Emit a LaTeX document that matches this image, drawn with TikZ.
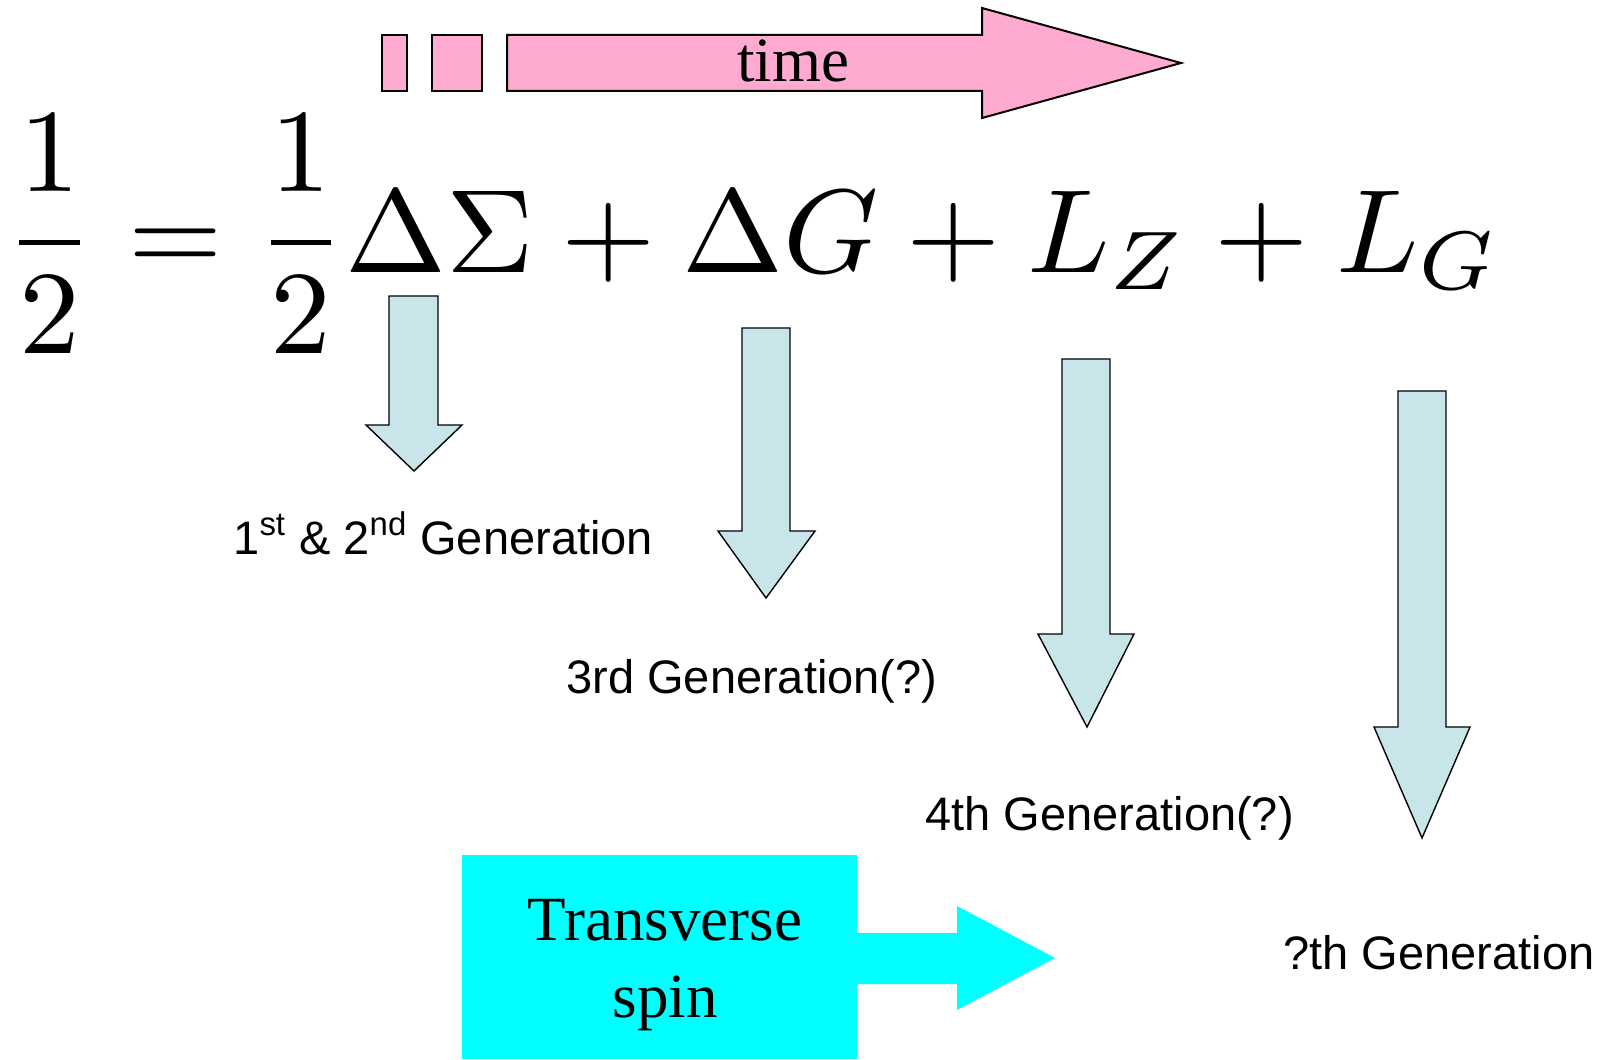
\documentclass[tikz,border=0pt]{standalone}
\usepackage{fontspec}
\usepackage{graphicx}
\setmainfont{Liberation Serif}
\newfontfamily\labelfont{Liberation Sans}
\definecolor{pinkfill}{RGB}{255,170,208}
\definecolor{iceblue}{RGB}{200,230,233}
\definecolor{brightcyan}{RGB}{0,255,255}
\begin{document}
\begin{tikzpicture}[x=0.5pt,y=-0.5pt,
  pinkshape/.style={fill=pinkfill,draw=black,line width=1pt,line join=miter},
  downarrow/.style={fill=iceblue,draw=black,line width=0.7pt,line join=miter},
  genlabel/.style={anchor=base west,inner sep=0pt,font=\labelfont\fontsize{23.5pt}{28pt}\selectfont},
  seriflabel/.style={inner sep=0pt,font=\fontsize{31.5pt}{38.5pt}\selectfont}]
\useasboundingbox (0,0) rectangle (1615,1059);
% time arrow
\draw[pinkshape] (382,35) rectangle (407,91);
\draw[pinkshape] (432,35) rectangle (482,91);
\draw[pinkshape] (507,35) -- (982,35) -- (982,8) -- (1181,63) -- (982,118) -- (982,91) -- (507,91) -- cycle;
\node[seriflabel,anchor=base] (time) at (793,82) {time};
% equation
\node[anchor=north west,inner sep=0pt] (eq) at (4.5,115)
  {\resizebox*{747.5pt}{119pt}{$\displaystyle \frac{1}{2}=\frac{1}{2}\Delta\Sigma+\Delta G+L_Z+L_G$}};
% down arrows
\draw[downarrow] (389,296) -- (438,296) -- (438,425) -- (462,425) -- (414,471) -- (366,425) -- (389,425) -- cycle;
\draw[downarrow] (742,328) -- (790,328) -- (790,531) -- (815,531) -- (766,598) -- (718,531) -- (742,531) -- cycle;
\draw[downarrow] (1062,359) -- (1110,359) -- (1110,634) -- (1134,634) -- (1087,727) -- (1038,634) -- (1062,634) -- cycle;
\draw[downarrow] (1398,391) -- (1446,391) -- (1446,727) -- (1470,727) -- (1422,838) -- (1374,727) -- (1398,727) -- cycle;
% generation labels
\node[genlabel] (g1) at (233,554) {1\textsuperscript{st} \& 2\textsuperscript{nd} Generation};
\node[genlabel] (g3) at (566,693) {3rd Generation(?)};
\node[genlabel] (g4) at (925,830) {4th Generation(?)};
\node[genlabel] (g5) at (1283,969) {?th Generation};
% transverse spin
\fill[brightcyan] (462,855) rectangle (857,1059);
\fill[brightcyan] (850,933) -- (957,933) -- (957,906) -- (1055,958) -- (957,1010) -- (957,984) -- (850,984) -- cycle;
\node[seriflabel,align=center,anchor=base] (ts) at (665,1017) {Transverse\\spin};
\end{tikzpicture}
\end{document}
